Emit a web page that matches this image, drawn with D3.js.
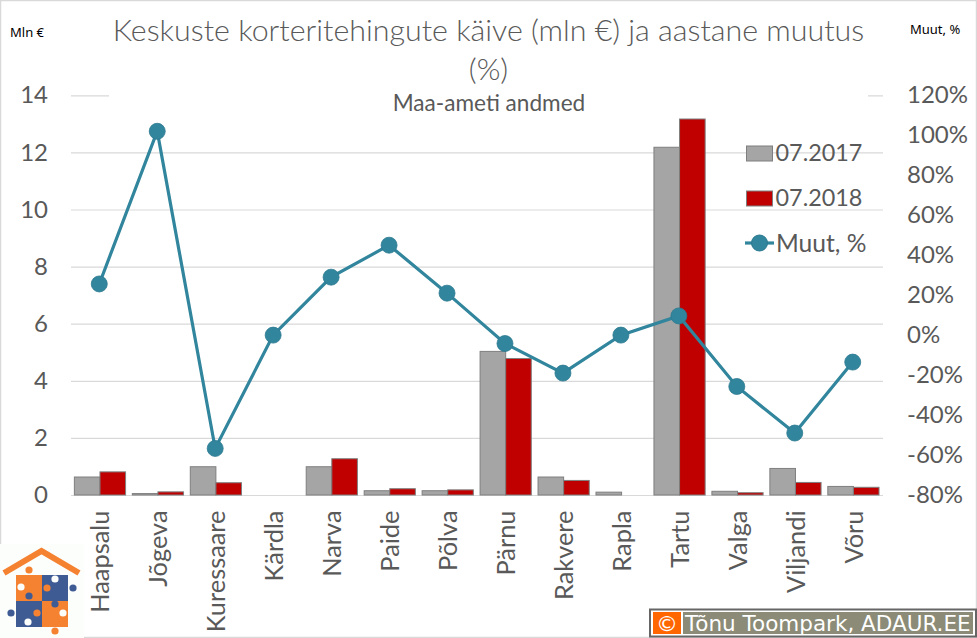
<!DOCTYPE html>
<html>
<head>
<meta charset="utf-8">
<script src="https://cdn.jsdelivr.net/npm/d3@7"></script>
<style>
  html, body { margin: 0; padding: 0; background: #fff; }
  svg { display: block; }
  text { font-family: Lato, sans-serif; fill: #595959; }
  .tick line { stroke: #d9d9d9; }
  .domain { display: none; }
</style>
</head>
<body>
<svg id="chart" width="977" height="638"></svg>
<script>
const cities = ["Haapsalu", "Jõgeva", "Kuressaare", "Kärdla", "Narva", "Paide", "Põlva", "Pärnu", "Rakvere", "Rapla", "Tartu", "Valga", "Viljandi", "Võru"];
const turnover2017 = [0.63, 0.05, 0.99, 0, 0.99, 0.15, 0.15, 5.03, 0.63, 0.1, 12.18, 0.13, 0.93, 0.3];
const turnover2018 = [0.81, 0.11, 0.43, 0, 1.27, 0.22, 0.18, 4.78, 0.51, 0, 13.17, 0.08, 0.44, 0.27];
const changePct = [25.6, 102, -56.7, 0, 29, 45, 21, -4.2, -19, 0, 9.6, -25.7, -49, -13.5];
const leftTicks = [0, 2, 4, 6, 8, 10, 12, 14];
const rightTicks = [-80, -60, -40, -20, 0, 20, 40, 60, 80, 100, 120];
const seriesNames = ["07.2017", "07.2018", "Muut, %"];

const svg = d3.select("#chart");
const grey = "#a5a5a5", red = "#c00000", teal = "#31859c", barStroke = "#7f7f7f";

// outer frame
svg.append("rect").attr("x", 0.5).attr("y", 0.5).attr("width", 976).attr("height", 637)
  .attr("fill", "#fff").attr("stroke", "#d9d9d9").attr("stroke-width", 1.5);

const plotLeft = 71, plotRight = 883, plotTop = 95.3, plotBottom = 495;

const x = d3.scaleBand().domain(cities).range([plotLeft, plotRight - 0.6]).paddingInner(0).paddingOuter(0);
const yLeft = d3.scaleLinear().domain([0, 14]).range([plotBottom, plotTop]);
const yRight = d3.scaleLinear().domain([-80, 120]).range([plotBottom, plotTop]);

const barW = 25.6;
const cx = (d) => x(d) + x.bandwidth() / 2;

// gridlines + left labels
const gLeft = svg.append("g").attr("transform", `translate(${plotLeft},0)`)
  .call(d3.axisLeft(yLeft).tickValues(leftTicks).tickSize(-(plotRight - plotLeft)).tickPadding(23));
gLeft.selectAll(".tick text").attr("font-size", 24).style("font-family", "Lato, sans-serif").attr("fill", "#595959");
gLeft.selectAll(".tick line").attr("stroke", "#d9d9d9").attr("stroke-width", 1.2);

// bars
const bars = svg.append("g");
[[turnover2017, grey, -barW], [turnover2018, red, 0]].forEach(([vals, col, off]) => {
  bars.selectAll(null).data(cities.filter((_, i) => vals[i] > 0))
    .join("rect")
    .attr("x", (d) => cx(d) + off)
    .attr("width", barW)
    .attr("y", (d) => yLeft(vals[cities.indexOf(d)]))
    .attr("height", (d) => plotBottom - yLeft(vals[cities.indexOf(d)]))
    .attr("fill", col).attr("stroke", barStroke).attr("stroke-width", 1);
});

// title box hides the top gridline, as in the original
svg.append("rect").attr("x", 109).attr("y", 10).attr("width", 759).attr("height", 106).attr("fill", "#fff");

svg.append("text").attr("x", 488.5).attr("y", 41).attr("text-anchor", "middle")
  .attr("font-size", 30.4).attr("font-weight", 300).text("Keskuste korteritehingute käive (mln €) ja aastane muutus");
svg.append("text").attr("x", 488.5).attr("y", 80).attr("text-anchor", "middle")
  .attr("font-size", 30.4).attr("font-weight", 300).text("(%)");
svg.append("text").attr("x", 489).attr("y", 111).attr("text-anchor", "middle")
  .attr("font-size", 22.6).text("Maa-ameti andmed");

// side unit labels
svg.append("text").attr("x", 10).attr("y", 37).attr("font-size", 13)
  .style("font-family", "'Noto Sans', sans-serif").style("fill", "#000").text("Mln €");
svg.append("text").attr("x", 910).attr("y", 34).attr("font-size", 13)
  .style("font-family", "'Noto Sans', sans-serif").style("fill", "#000").text("Muut, %");

// change line
const line = d3.line().x((d) => cx(d) - 0.7).y((d) => yRight(changePct[cities.indexOf(d)]));
svg.append("path").datum(cities).attr("d", line)
  .attr("fill", "none").attr("stroke", teal).attr("stroke-width", 3.2);
svg.append("g").selectAll("circle").data(cities).join("circle")
  .attr("cx", (d) => cx(d) - 0.7)
  .attr("cy", (d) => yRight(changePct[cities.indexOf(d)]))
  .attr("r", 8).attr("fill", teal).attr("stroke", "#2c7a90").attr("stroke-width", 0.8);

// right axis labels
const gRight = svg.append("g").attr("transform", `translate(${plotRight},0)`)
  .call(d3.axisRight(yRight).tickValues(rightTicks).tickSize(0).tickPadding(24).tickFormat((d) => d + "%"));
gRight.selectAll(".tick text").attr("font-size", 24).style("font-family", "Lato, sans-serif");

// category labels
const gBottom = svg.append("g").attr("transform", `translate(0,${plotBottom})`)
  .call(d3.axisBottom(x).tickSize(0).tickPadding(0));
gBottom.selectAll(".tick text")
  .attr("text-anchor", "end").attr("dy", 0).attr("y", 0)
  .attr("transform", "translate(3,15.5) rotate(-90)")
  .attr("dominant-baseline", "middle")
  .attr("font-size", 25.4).style("font-family", "Lato, sans-serif");

// legend
const legend = svg.append("g");
[grey, red].forEach((col, i) => {
  const top = 146 + i * 45;
  legend.append("rect").attr("x", 746.5).attr("y", top).attr("width", 26).attr("height", 15)
    .attr("fill", col).attr("stroke", barStroke);
  legend.append("text").attr("x", 775.5).attr("y", top + 15).attr("font-size", 23.4).text(seriesNames[i]);
});
legend.append("line").attr("x1", 745).attr("x2", 774).attr("y1", 243).attr("y2", 243)
  .attr("stroke", teal).attr("stroke-width", 3.2);
legend.append("circle").attr("cx", 759.5).attr("cy", 243).attr("r", 8).attr("fill", teal).attr("stroke", "#2c7a90");
legend.append("text").attr("x", 776).attr("y", 252).attr("font-size", 24.6).text(seriesNames[2]);

// watermark
svg.append("rect").attr("x", 650).attr("y", 609.5).attr("width", 326).attr("height", 27)
  .attr("fill", "#fff").attr("stroke", "#666").attr("stroke-width", 2);
svg.append("rect").attr("x", 653).attr("y", 612).attr("width", 28).attr("height", 22).attr("fill", "#ff6600");
svg.append("rect").attr("x", 683).attr("y", 612).attr("width", 290).attr("height", 22).attr("fill", "#8b8b77");
svg.append("text").attr("x", 667).attr("y", 631).attr("text-anchor", "middle").attr("font-size", 22)
  .style("font-family", "'DejaVu Sans', sans-serif").style("fill", "#fff").text("©");
svg.append("text").attr("x", 685).attr("y", 631).attr("font-size", 21.5)
  .style("font-family", "'DejaVu Sans', sans-serif").style("fill", "#fff").text("Tõnu Toompark, ADAUR.EE");

// logo
const orange = "#f58231", navy = "#3f5b94";
const logo = svg.append("g");
logo.append("rect").attr("x", 0).attr("y", 544).attr("width", 84).attr("height", 94).attr("fill", "#fcfefc");
logo.append("path").attr("d", "M4,573 L41.5,551 L79,573").attr("fill", "none").attr("stroke", orange).attr("stroke-width", 6);
[[16, 575, orange], [42, 575, navy], [16, 601, navy], [42, 601, orange]].forEach(([px, py, c]) => {
  logo.append("rect").attr("x", px).attr("y", py).attr("width", 26).attr("height", 26).attr("fill", c);
});
[[29, 570, orange], [21, 587, "#fcfefc"], [47, 588, orange], [55, 579, "#fcfefc"], [73, 588, navy],
 [29, 596, navy], [11, 613, navy], [28, 622, "#fcfefc"], [55, 604, navy], [37, 613, orange], [63, 613, "#fcfefc"], [55, 631, orange]]
  .forEach(([kx, ky, c]) => {
    logo.append("circle").attr("cx", kx).attr("cy", ky).attr("r", 3.6).attr("fill", c);
  });
</script>
</body>
</html>
